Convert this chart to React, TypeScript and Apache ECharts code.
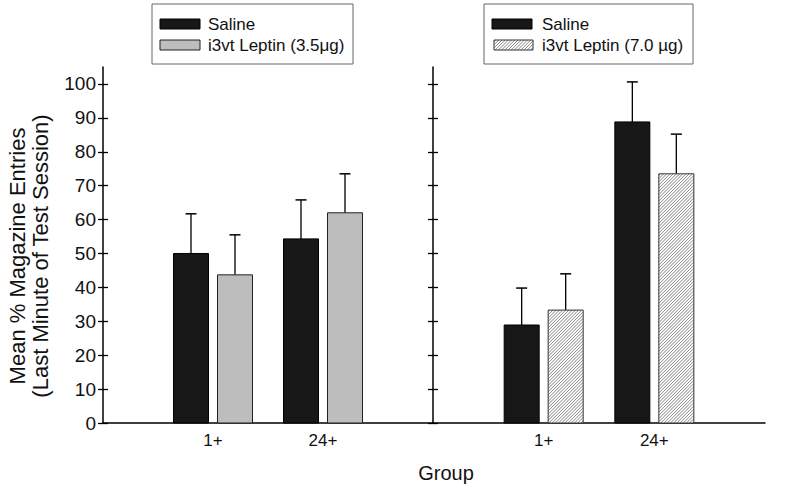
import React, { useEffect, useRef } from "react";
import * as echarts from "echarts";

const categories = ["", "1+", "24+", ""];
const groupIndex = [1, 2];
const leftSaline = [50.0, 54.3];
const leftSalineErr = [11.7, 11.5];
const leftLeptin = [43.7, 62.0];
const leftLeptinErr = [11.8, 11.5];
const rightSaline = [28.9, 88.8];
const rightSalineErr = [10.9, 11.8];
const rightLeptin = [33.3, 73.5];
const rightLeptinErr = [10.7, 11.7];
const yTicks = [0, 10, 20, 30, 40, 50, 60, 70, 80, 90, 100];

const legendLeft = ["Saline", "i3vt Leptin (3.5μg)"];
const legendRight = ["Saline", "i3vt Leptin (7.0 µg)"];

const FONT = "'Liberation Sans', Arial, sans-serif";
const BAR_W = 35;
const OFFSET = 22;

function hatchLines(x0: number, y0: number, w: number, h: number, step: number, stroke: string) {
  const x1 = x0 + w;
  const y1 = y0 + h;
  const out: any[] = [];
  for (let c = x0 + y0 + step / 2; c < x1 + y1; c += step) {
    const sx = Math.max(x0, c - y1);
    const ex = Math.min(x1, c - y0);
    if (ex <= sx) continue;
    out.push({
      type: "line",
      shape: { x1: sx, y1: c - sx, x2: ex, y2: c - ex },
      style: { stroke, lineWidth: 0.7 },
      silent: true,
    });
  }
  return out;
}

function makeRender(offset: number, kind: "black" | "grey" | "hatch") {
  return (params: any, api: any) => {
    const xi = api.value(0);
    const v = api.value(1);
    const e = api.value(2);
    const base = api.coord([xi, 0]);
    const top = api.coord([xi, v]);
    const errTop = api.coord([xi, v + e]);
    const cx = base[0] + offset;
    const x0 = cx - BAR_W / 2;
    const h = base[1] - top[1];
    const children: any[] = [];
    children.push({
      type: "line",
      shape: { x1: cx, y1: top[1], x2: cx, y2: errTop[1] },
      style: { stroke: "#000", lineWidth: 1.3 },
    });
    children.push({
      type: "line",
      shape: { x1: cx - 5.5, y1: errTop[1], x2: cx + 5.5, y2: errTop[1] },
      style: { stroke: "#000", lineWidth: 1.5 },
    });
    if (kind === "black") {
      children.push({
        type: "rect",
        shape: { x: x0, y: top[1], width: BAR_W, height: h },
        style: { fill: "#171717", stroke: "#000", lineWidth: 1 },
      });
    } else if (kind === "grey") {
      children.push({
        type: "rect",
        shape: { x: x0, y: top[1], width: BAR_W, height: h },
        style: { fill: "#bdbdbd", stroke: "#222", lineWidth: 1 },
      });
    } else {
      children.push({
        type: "rect",
        shape: { x: x0, y: top[1], width: BAR_W, height: h },
        style: { fill: "#fff", stroke: "none" },
      });
      children.push(...hatchLines(x0, top[1], BAR_W, h, 3.2, "#555"));
      children.push({
        type: "rect",
        shape: { x: x0, y: top[1], width: BAR_W, height: h },
        style: { fill: "none", stroke: "#333", lineWidth: 1 },
      });
    }
    return { type: "group", children };
  };
}

function toData(vals: number[], errs: number[]) {
  return vals.map((v, i) => [groupIndex[i], v, errs[i]]);
}

export default function App() {
  const ref = useRef<HTMLDivElement>(null);
  useEffect(() => {
    document.body.style.margin = "0";
    if (!ref.current) return;
    const chart = echarts.init(ref.current, null, { renderer: "svg" });

    const xAxisBase = (gridIndex: number) => ({
      type: "category",
      gridIndex,
      data: categories,
      boundaryGap: false,
      axisLine: { show: true, lineStyle: { color: "#000", width: 1.5 } },
      axisTick: { show: false },
      axisLabel: {
        fontSize: 17,
        color: "#111",
        fontFamily: FONT,
        margin: 9,
        interval: 0,
      },
      splitLine: { show: false },
    });

    const yAxisBase = (gridIndex: number, inside: boolean, withLine: boolean, withLabels: boolean) => ({
      type: "value",
      gridIndex,
      min: 0,
      max: 105,
      interval: 10,
      position: "left",
      offset: 0,
      axisLine: { show: withLine, lineStyle: { color: "#000", width: 1.5 } },
      axisTick: {
        show: true,
        inside,
        length: 5,
        customValues: yTicks,
        lineStyle: { color: "#000", width: 1.3 },
      },
      axisLabel: {
        show: withLabels,
        customValues: yTicks,
        fontSize: 19,
        color: "#111",
        fontFamily: FONT,
        margin: 7,
      },
      splitLine: { show: false },
    });

    const legendBox = (x: number, w: number, labels: string[], second: "grey" | "hatch") => {
      const children: any[] = [
        {
          type: "rect",
          shape: { x, y: 4, width: w, height: 60 },
          style: { fill: "#fff", stroke: "#666", lineWidth: 1 },
        },
        {
          type: "rect",
          shape: { x: x + 8, y: 19, width: 40, height: 10 },
          style: { fill: "#171717", stroke: "#000", lineWidth: 1 },
        },
      ];
      if (second === "grey") {
        children.push({
          type: "rect",
          shape: { x: x + 8, y: 40, width: 40, height: 10 },
          style: { fill: "#bdbdbd", stroke: "#222", lineWidth: 1 },
        });
      } else {
        children.push(...hatchLines(x + 10, 40, 39, 10, 3.2, "#555"));
        children.push({
          type: "rect",
          shape: { x: x + 10, y: 40, width: 39, height: 10 },
          style: { fill: "none", stroke: "#333", lineWidth: 1 },
        });
      }
      const tx = second === "grey" ? x + 56 : x + 58;
      children.push({
        type: "text",
        x: tx,
        y: 24,
        style: { text: labels[0], font: `17px ${FONT}`, fill: "#111", align: "left", verticalAlign: "middle" },
      });
      children.push({
        type: "text",
        x: tx,
        y: 45,
        style: { text: labels[1], font: `17px ${FONT}`, fill: "#111", align: "left", verticalAlign: "middle" },
      });
      return { type: "group", children };
    };

    const option: any = {
      animation: false,
      backgroundColor: "#fff",
      grid: [
        { left: 103, right: 360, top: 67, bottom: 67 },
        { left: 433, right: 28, top: 67, bottom: 67 },
      ],
      xAxis: [xAxisBase(0), xAxisBase(1)],
      yAxis: [
        yAxisBase(0, true, true, true),
        yAxisBase(0, false, false, false),
        yAxisBase(1, true, true, false),
        yAxisBase(1, false, false, false),
      ],
      series: [
        {
          type: "custom",
          name: "Saline",
          xAxisIndex: 0,
          yAxisIndex: 0,
          encode: { x: 0, y: 1 },
          renderItem: makeRender(-OFFSET, "black"),
          data: toData(leftSaline, leftSalineErr),
        },
        {
          type: "custom",
          name: "i3vt Leptin (3.5μg)",
          xAxisIndex: 0,
          yAxisIndex: 0,
          encode: { x: 0, y: 1 },
          renderItem: makeRender(OFFSET, "grey"),
          data: toData(leftLeptin, leftLeptinErr),
        },
        {
          type: "custom",
          name: "Saline",
          xAxisIndex: 1,
          yAxisIndex: 2,
          encode: { x: 0, y: 1 },
          renderItem: makeRender(-OFFSET, "black"),
          data: toData(rightSaline, rightSalineErr),
        },
        {
          type: "custom",
          name: "i3vt Leptin (7.0 µg)",
          xAxisIndex: 1,
          yAxisIndex: 2,
          encode: { x: 0, y: 1 },
          renderItem: makeRender(OFFSET, "hatch"),
          data: toData(rightLeptin, rightLeptinErr),
        },
      ],
      graphic: [
        legendBox(152, 201, legendLeft, "grey"),
        legendBox(484, 209, legendRight, "hatch"),
        {
          type: "text",
          x: 29,
          y: 256,
          rotation: Math.PI / 2,
          style: {
            text: "Mean % Magazine Entries\n(Last Minute of Test Session)",
            font: `22px ${FONT}`,
            lineHeight: 23,
            fill: "#111",
            align: "center",
            verticalAlign: "middle",
          },
        },
        {
          type: "text",
          x: 446,
          y: 473,
          style: {
            text: "Group",
            font: `20px ${FONT}`,
            fill: "#111",
            align: "center",
            verticalAlign: "middle",
          },
        },
      ],
    };
    chart.setOption(option);
    return () => chart.dispose();
  }, []);
  return <div ref={ref} style={{ width: 793, height: 490 }} />;
}
